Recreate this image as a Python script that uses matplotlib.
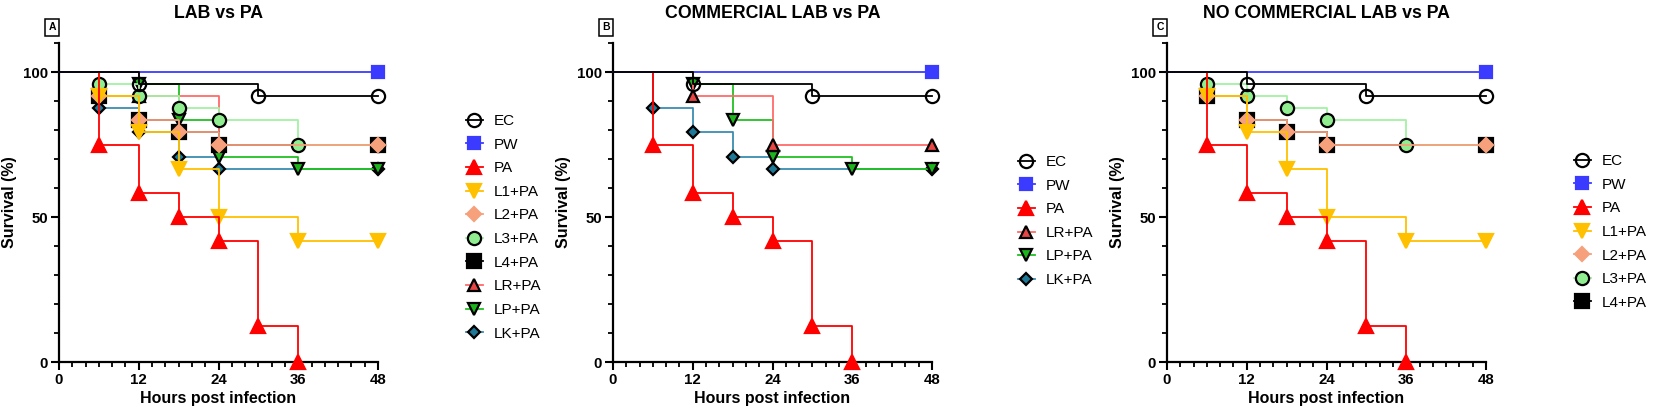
import matplotlib
matplotlib.use("Agg")
import matplotlib.pyplot as plt
from matplotlib.ticker import MultipleLocator

plt.rcParams['font.family'] = ['Liberation Sans', 'DejaVu Sans']

# survival data (hours, % surviving); markers drawn at every step and at the end
ec_t = [0, 12, 30, 48]
ec_s = [100, 95.83, 91.67, 91.67]
pw_t = [0, 48]
pw_s = [100, 100]
pa_t = [0, 6, 12, 18, 24, 30, 36]
pa_s = [100, 75, 58.33, 50, 41.67, 12.5, 0]
l1_t = [0, 6, 12, 18, 24, 36, 48]
l1_s = [100, 91.67, 79.17, 66.67, 50, 41.67, 41.67]
l2_t = [0, 6, 12, 18, 24, 48]
l2_s = [100, 91.67, 83.33, 79.17, 75, 75]
l3_t = [0, 6, 12, 18, 24, 36, 48]
l3_s = [100, 95.83, 91.67, 87.5, 83.33, 75, 75]
l4_t = [0, 6, 12, 18, 24, 48]
l4_s = [100, 91.67, 83.33, 79.17, 75, 75]
lr_t = [0, 12, 24, 48]
lr_s = [100, 91.67, 75, 75]
lp_t = [0, 12, 18, 24, 36, 48]
lp_s = [100, 95.83, 83.33, 70.83, 66.67, 66.67]
lk_t = [0, 6, 12, 18, 24, 48]
lk_s = [100, 87.5, 79.17, 70.83, 66.67, 66.67]

# name: (times, surv, line colour, marker, size, face, edge)
series = {
    'EC':    (ec_t, ec_s, 'black',   'o', 9.5, 'none',    'black'),
    'PW':    (pw_t, pw_s, '#3b3bff', 's', 8.5, '#3b3bff', '#3b3bff'),
    'PA':    (pa_t, pa_s, '#ff0000', '^', 9.5, '#ff0000', '#ff0000'),
    'L1+PA': (l1_t, l1_s, '#ffc000', 'v', 9.5, '#ffc000', '#ffc000'),
    'L2+PA': (l2_t, l2_s, '#f7a07c', 'D', 7,   '#f7a07c', '#f7a07c'),
    'L3+PA': (l3_t, l3_s, '#a4f0a4', 'o', 9.5, '#90ee90', 'black'),
    'L4+PA': (l4_t, l4_s, 'black',   's', 9.5, 'black',   'black'),
    'LR+PA': (lr_t, lr_s, '#ff6b6b', '^', 8.5, '#e84545', 'black'),
    'LP+PA': (lp_t, lp_s, '#22c022', 'v', 8.5, '#1eb41e', 'black'),
    'LK+PA': (lk_t, lk_s, '#3a8cb0', 'D', 6.5, '#1e7896', 'black'),
}

panels = [
    ('A', 'LAB vs PA', ['EC', 'PW', 'PA', 'L1+PA', 'L2+PA', 'L3+PA', 'L4+PA', 'LR+PA', 'LP+PA', 'LK+PA']),
    ('B', 'COMMERCIAL LAB vs PA', ['EC', 'PW', 'PA', 'LR+PA', 'LP+PA', 'LK+PA']),
    ('C', 'NO COMMERCIAL LAB vs PA', ['EC', 'PW', 'PA', 'L1+PA', 'L2+PA', 'L3+PA', 'L4+PA']),
]

W, H = 1654, 420
fig = plt.figure(figsize=(W / 100, H / 100), dpi=100)

lefts = [59, 613, 1167]
leg_x = [466, 1018, 1574]
leg_y = [114, 155, 154]
ax_w = 319
ax_bottom = 362
ax_top = 43

for k, (tag, title, names) in enumerate(panels):
    ax = fig.add_axes([lefts[k] / W, 1 - ax_bottom / H, ax_w / W, (ax_bottom - ax_top) / H])
    handles = {}
    # later groups are drawn first, so the first groups sit on top
    for i, name in enumerate(reversed(names)):
        t, s, lc, m, ms, fc, ec = series[name]
        z = 3 + i
        ax.step(t, s, where='post', color=lc, lw=1.3, zorder=z, clip_on=False)
        ax.plot(t[1:], s[1:], ls='none', marker=m, ms=ms, mfc=fc, mec=ec,
                mew=1.6, zorder=z, clip_on=False)
        h, = ax.plot([], [], color=lc, lw=1.3, marker=m, ms=ms, mfc=fc, mec=ec, mew=1.6)
        handles[name] = h

    ax.set_xlim(0, 48)
    ax.set_ylim(0, 110)
    ax.xaxis.set_major_locator(MultipleLocator(12))
    ax.xaxis.set_minor_locator(MultipleLocator(2))
    ax.set_yticks([0, 50, 100])
    ax.yaxis.set_minor_locator(MultipleLocator(10))
    for sp in ('top', 'right'):
        ax.spines[sp].set_visible(False)
    for sp in ('left', 'bottom'):
        ax.spines[sp].set_linewidth(1.6)
    ax.tick_params(which='major', length=6, width=1.5, labelsize=10.8, pad=2)
    ax.tick_params(which='minor', length=3.5, width=1.3)
    for lab in ax.get_xticklabels() + ax.get_yticklabels():
        lab.set_fontweight('bold')
    ax.set_xlabel('Hours post infection', fontsize=11.5, fontweight='bold', labelpad=3)
    ax.set_ylabel('Survival (%)', fontsize=11.5, fontweight='bold', labelpad=4)
    ax.set_title(title, fontsize=12.8, fontweight='bold', pad=0,
                 y=(H - 13 - (H - ax_bottom)) / (ax_bottom - ax_top), va='center')

    fig.text((lefts[k] - 7) / W, 1 - 27.5 / H, tag, fontsize=7.5, fontweight='bold',
             ha='center', va='center',
             bbox=dict(boxstyle='square,pad=0.35', fc='white', ec='black', lw=1.1))

    ax.legend([handles[nm] for nm in names], names, loc='upper left',
              bbox_to_anchor=(leg_x[k] / W, 1 - leg_y[k] / H),
              bbox_transform=fig.transFigure, frameon=False, fontsize=11,
              handlelength=1.1, handletextpad=0.7, labelspacing=0.63,
              borderaxespad=0, borderpad=0)

fig.savefig('out.png', dpi=100)
